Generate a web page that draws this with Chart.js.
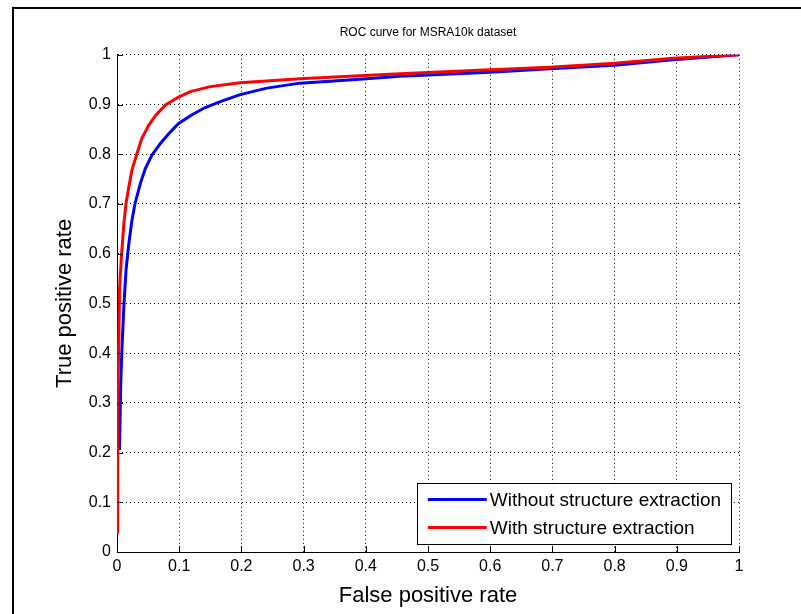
<!DOCTYPE html>
<html>
<head>
<meta charset="utf-8">
<script src="https://cdn.jsdelivr.net/npm/chart.js@4/dist/chart.umd.min.js"></script>
<style>
  body { margin: 0; background: #fff; }
  canvas { display: block; }
</style>
</head>
<body>
<canvas id="myChart" width="801" height="614"></canvas>
<script>
// values
let titleText = 'ROC curve for MSRA10k dataset';
let xTitle = 'False positive rate';
let yTitle = 'True positive rate';
let seriesNames = ['Without structure extraction', 'With structure extraction'];
let seriesColors = ['rgb(0,0,255)', 'rgb(255,0,0)'];

// blue curve
let fprWithout = [0.004, 0.006, 0.008, 0.011, 0.0145, 0.019, 0.024, 0.029, 0.0375, 0.0455, 0.056, 0.070, 0.086, 0.099, 0.12, 0.14, 0.166, 0.198, 0.241, 0.294, 0.39, 0.455, 0.6, 0.696, 0.8, 0.894, 1.0];
let tprWithout = [0.205, 0.34, 0.41, 0.493, 0.567, 0.620, 0.667, 0.701, 0.741, 0.771, 0.798, 0.822, 0.845, 0.862, 0.879, 0.893, 0.906, 0.920, 0.933, 0.943, 0.951, 0.957, 0.965, 0.972, 0.979, 0.99, 1.0];

// red curve
let fprWith = [0.0, 0.001, 0.003, 0.004, 0.007, 0.011, 0.0145, 0.019, 0.024, 0.032, 0.040, 0.051, 0.062, 0.078, 0.099, 0.118, 0.15, 0.198, 0.294, 0.39, 0.455, 0.6, 0.696, 0.8, 0.894, 1.0];
let tprWith = [0.04, 0.3, 0.43, 0.526, 0.593, 0.660, 0.701, 0.734, 0.768, 0.801, 0.832, 0.858, 0.878, 0.899, 0.915, 0.926, 0.936, 0.944, 0.952, 0.958, 0.962, 0.970, 0.975, 0.983, 0.993, 1.0];

function toPoints(xs, ys) {
    return xs.map(function (x, i) {
        return {x: x, y: ys[i]};
    });
}

function tickLabel(v) {
    return String(+v.toFixed(1));
}

Chart.defaults.font.family = '"Liberation Sans", Arial, sans-serif';
Chart.defaults.color = '#000';

// figure frame (left + top edge only are visible)
let framePlugin = {
    id: 'frame',
    beforeDraw: function (chart) {
        let ctx = chart.ctx;
        ctx.save();
        ctx.fillStyle = '#fff';
        ctx.fillRect(0, 0, chart.width, chart.height);
        ctx.strokeStyle = '#000';
        ctx.lineWidth = 2;
        ctx.beginPath();
        ctx.moveTo(13, chart.height);
        ctx.lineTo(13, 8);
        ctx.lineTo(chart.width, 8);
        ctx.stroke();
        ctx.restore();
    }
};

// short solid tick marks pointing into the axes
let innerTicks = {
    id: 'innerTicks',
    afterDatasetsDraw: function (chart) {
        let ctx = chart.ctx;
        let xs = chart.scales.x;
        let ys = chart.scales.y;
        let area = chart.chartArea;
        ctx.save();
        ctx.strokeStyle = '#000';
        ctx.lineWidth = 1;
        ctx.beginPath();
        xs.ticks.forEach(function (t) {
            let px = Math.round(xs.getPixelForValue(t.value)) + 0.5;
            ctx.moveTo(px, area.bottom);
            ctx.lineTo(px, area.bottom - 6);
        });
        ys.ticks.forEach(function (t) {
            let py = Math.round(ys.getPixelForValue(t.value)) + 0.5;
            ctx.moveTo(area.left, py);
            ctx.lineTo(area.left + 6, py);
        });
        ctx.stroke();
        ctx.restore();
    }
};

// boxed legend in the lower right of the axes
let boxLegend = {
    id: 'boxLegend',
    afterDraw: function (chart) {
        let ctx = chart.ctx;
        let xs = chart.scales.x;
        let ys = chart.scales.y;
        let left = xs.getPixelForValue(0.482);
        let right = xs.getPixelForValue(0.987);
        let top = ys.getPixelForValue(0.139);
        let bottom = ys.getPixelForValue(0.016);
        ctx.save();
        ctx.fillStyle = '#fff';
        ctx.fillRect(left, top, right - left, bottom - top);
        ctx.strokeStyle = '#000';
        ctx.lineWidth = 1;
        ctx.strokeRect(Math.round(left) + 0.5, Math.round(top) + 0.5, Math.round(right - left), Math.round(bottom - top));
        ctx.font = '19px "Liberation Sans", Arial, sans-serif';
        ctx.textBaseline = 'middle';
        ctx.textAlign = 'left';
        seriesNames.forEach(function (name, i) {
            let y = Math.round(top + 16 + i * 28) + 0.5;
            ctx.strokeStyle = seriesColors[i];
            ctx.lineWidth = 3;
            ctx.beginPath();
            ctx.moveTo(left + 11, y);
            ctx.lineTo(left + 70, y);
            ctx.stroke();
            ctx.fillStyle = '#000';
            ctx.fillText(name, left + 73, y + 1);
        });
        ctx.restore();
    }
};

let ctx = document.getElementById('myChart').getContext('2d');
let chart = new Chart(ctx, {
    type: 'line',
    data: {
        datasets: [{
            label: seriesNames[0],
            data: toPoints(fprWithout, tprWithout),
            borderColor: seriesColors[0],
            backgroundColor: seriesColors[0],
            borderWidth: 3,
            pointRadius: 0,
            tension: 0,
            order: 2
        }, {
            label: seriesNames[1],
            data: toPoints(fprWith, tprWith),
            borderColor: seriesColors[1],
            backgroundColor: seriesColors[1],
            borderWidth: 3,
            pointRadius: 0,
            tension: 0,
            order: 1
        }]
    },
    options: {
        responsive: false,
        animation: false,
        layout: {
            padding: {left: 0, right: 62, top: 0, bottom: 0}
        },
        plugins: {
            legend: {display: false},
            tooltip: {enabled: false},
            title: {
                display: true,
                text: titleText,
                fullSize: false,
                color: '#000',
                font: {size: 12, weight: 'normal', lineHeight: 1.4},
                padding: {top: 24, bottom: 14}
            }
        },
        scales: {
            x: {
                type: 'linear',
                min: 0,
                max: 1,
                afterFit: function (s) { s.height = 62; },
                ticks: {
                    stepSize: 0.1,
                    padding: 5,
                    maxRotation: 0,
                    autoSkip: false,
                    font: {size: 16},
                    color: '#000',
                    callback: tickLabel
                },
                grid: {color: '#000', lineWidth: 1, drawTicks: false},
                border: {display: true, color: '#000', width: 1, dash: [1, 3]},
                title: {
                    display: true,
                    text: xTitle,
                    color: '#000',
                    font: {size: 22},
                    padding: {top: 0, bottom: 5}
                }
            },
            y: {
                type: 'linear',
                min: 0,
                max: 1,
                afterFit: function (s) { s.width = 117; },
                ticks: {
                    stepSize: 0.1,
                    padding: 6,
                    autoSkip: false,
                    font: {size: 16},
                    color: '#000',
                    callback: tickLabel
                },
                grid: {color: '#000', lineWidth: 1, drawTicks: false},
                border: {display: true, color: '#000', width: 1, dash: [1, 3]},
                title: {
                    display: true,
                    text: yTitle,
                    color: '#000',
                    font: {size: 22},
                    padding: {top: 52, bottom: 0}
                }
            }
        }
    },
    plugins: [framePlugin, innerTicks, boxLegend]
});
</script>
</body>
</html>
